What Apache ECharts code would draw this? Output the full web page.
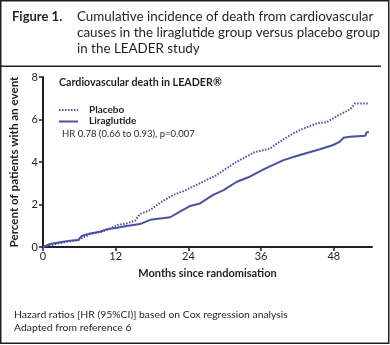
<!DOCTYPE html>
<html><head><meta charset="utf-8">
<script src="https://cdn.jsdelivr.net/npm/echarts@6/dist/echarts.min.js"></script>
<style>html,body{margin:0;padding:0;background:#fff}#c{width:390px;height:345px}</style>
</head><body><div id="c"></div>
<script>
const xTicks = [0, 12, 24, 36, 48];
const yTicks = [0, 2, 4, 6, 8];
const placeboMonths = [0,1.2,2.8,4.5,5.8,6.4,7.8,9.4,10.5,12.2,13.8,15.2,16,17.7,19.3,21.5,23.2,25.9,28.7,29.5,32,33.9,34.7,37.5,39.1,41.3,42.7,45.2,46.8,48.5,50.7,51.5,53.8];
const placeboValues = [0,0.08,0.18,0.27,0.33,0.41,0.61,0.7,0.8,1.03,1.11,1.24,1.55,1.74,2.08,2.45,2.63,3.0,3.39,3.55,4.02,4.3,4.44,4.64,4.96,5.35,5.54,5.82,5.87,6.16,6.48,6.75,6.75];
const liraMonths = [0,0.3,1.2,2.8,4.5,5.8,6.4,7.8,9.4,10.5,12.2,13.8,16,17.7,21,22.6,24.3,25.9,28.1,29.8,32,33.9,36.4,39.7,42.4,45.7,47.9,49,49.6,50.7,53.2,53.4,53.8];
const liraValues = [0,0.05,0.14,0.22,0.3,0.33,0.52,0.64,0.72,0.83,0.91,0.99,1.08,1.28,1.4,1.66,1.93,2.05,2.45,2.68,3.07,3.28,3.65,4.09,4.33,4.6,4.8,4.96,5.14,5.19,5.24,5.4,5.4];

const F = 'Lato';
const ink = '#231f20';
const blue = '#4a50a2';
const chart = echarts.init(document.getElementById('c'), null, {renderer: 'canvas'});
chart.setOption({
  animation: false,
  textStyle: {fontFamily: F, color: ink},
  graphic: [
    {type: 'rect', shape: {x: 0.75, y: 0.75, width: 388, height: 342.5}, style: {fill: 'none', stroke: ink, lineWidth: 1.5}},
    {type: 'line', shape: {x1: 1, y1: 66.2, x2: 381, y2: 66.2}, style: {stroke: ink, lineWidth: 1.6}},
    {type: 'text', left: 12, top: 10, style: {text: 'Figure 1.', font: 'bold 13px ' + F, fill: ink}},
    {type: 'text', left: 77, top: 9, style: {text: 'Cumulative incidence of death from cardiovascular\ncauses in the liraglutide group versus placebo group\nin the LEADER study', font: '13.4px ' + F, lineHeight: 16, fill: ink}},
    {type: 'text', left: 59, top: 77, style: {text: 'Cardiovascular death in LEADER®', font: 'bold 10.7px ' + F, fill: ink}},
    {type: 'line', shape: {x1: 59, y1: 110, x2: 78, y2: 110}, style: {stroke: blue, lineWidth: 2, lineDash: [1.5, 1.5]}},
    {type: 'text', left: 89, top: 104.5, style: {text: 'Placebo', font: 'bold 10px ' + F, fill: ink}},
    {type: 'line', shape: {x1: 59, y1: 121.5, x2: 78, y2: 121.5}, style: {stroke: blue, lineWidth: 2}},
    {type: 'text', left: 89, top: 115.5, style: {text: 'Liraglutide', font: 'bold 10px ' + F, fill: ink}},
    {type: 'text', left: 62, top: 128.5, style: {text: 'HR 0.78 (0.66 to 0.93), p=0.007', font: '9.5px ' + F, fill: ink}},
    {type: 'text', left: 14, top: 308, style: {text: 'Hazard ratios [HR (95%CI)] based on Cox regression analysis\nAdapted from reference 6', font: '10.4px ' + F, lineHeight: 13, fill: ink}}
  ],
  grid: {left: 43, right: 18, top: 77, bottom: 98, containLabel: false},
  xAxis: {
    type: 'value', min: 0, max: 54.3, interval: 12,
    name: 'Months since randomisation', nameLocation: 'middle', nameGap: 21,
    nameTextStyle: {fontFamily: F, fontSize: 11, fontWeight: 'bold', color: ink},
    axisLine: {lineStyle: {color: ink, width: 2}},
    axisTick: {show: true, length: 4, lineStyle: {color: ink, width: 1.5}, customValues: xTicks},
    axisLabel: {fontFamily: F, fontSize: 11, color: ink, margin: 4, customValues: xTicks},
    splitLine: {show: false}
  },
  yAxis: {
    type: 'value', min: 0, max: 8, interval: 2,
    name: 'Percent of patients with an event', nameLocation: 'middle', nameGap: 14,
    nameTextStyle: {fontFamily: F, fontSize: 11.6, fontWeight: 'bold', color: ink},
    axisLine: {show: true, lineStyle: {color: ink, width: 2}},
    axisTick: {show: true, length: 4, lineStyle: {color: ink, width: 1.5}},
    axisLabel: {fontFamily: F, fontSize: 11, color: ink, margin: 5},
    splitLine: {show: false}
  },
  series: [
    {name: 'Placebo', type: 'line', symbol: 'none', data: placeboMonths.map((m, i) => [m, placeboValues[i]]),
     lineStyle: {color: blue, width: 2, type: [1.5, 1.5]}, itemStyle: {color: blue}},
    {name: 'Liraglutide', type: 'line', symbol: 'none', data: liraMonths.map((m, i) => [m, liraValues[i]]),
     lineStyle: {color: blue, width: 2}, itemStyle: {color: blue}}
  ]
});
</script></body></html>
